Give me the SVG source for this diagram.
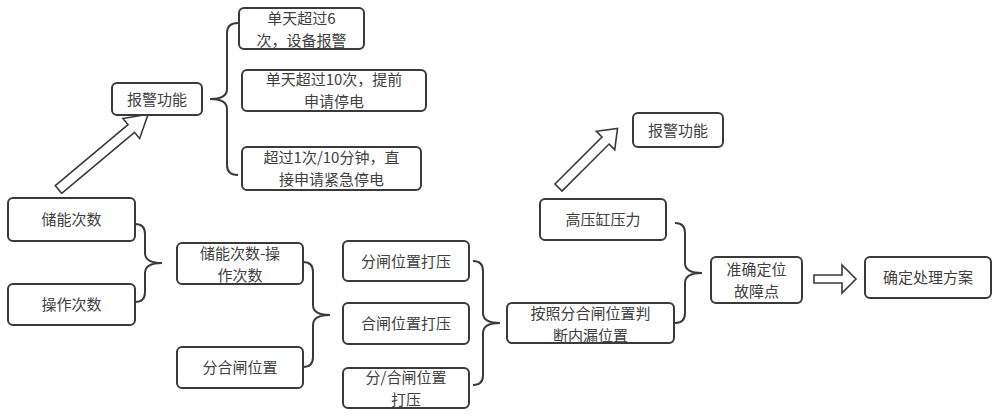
<svg xmlns="http://www.w3.org/2000/svg" width="1000" height="418" viewBox="0 0 1000 418">
<style>
.box{fill:#fff;stroke:#3a3a3a;stroke-width:2}
.t{font-family:"Noto Sans CJK SC","Liberation Sans",sans-serif;font-size:15px;fill:#404040;text-anchor:middle}
.br{fill:none;stroke:#3a3a3a;stroke-width:2}
.ar{fill:#fff;stroke:#3a3a3a;stroke-width:1.6;stroke-linejoin:miter}
</style>
<rect width="1000" height="418" fill="#fff"/>
<g id="connectors">
<polygon class="ar" transform="translate(58.5,189.5) rotate(-40)" points="0,-5 95,-5 95,-13 117,0 95,13 95,5 0,5"/>
<polygon class="ar" transform="translate(558.5,187.5) rotate(-45)" points="0,-5 66.5,-5 66.5,-13 83.5,0 66.5,13 66.5,5 0,5"/>
<polygon class="ar" transform="translate(814,279)" points="0,-4 28,-4 28,-14 42,0 28,14 28,4 0,4"/>
<path class="br" d="M238,23 Q227,23 227,33 L227,89 Q227,99 210,99 Q227,99 227,109 L227,165 Q227,175 238,175"/>
<path class="br" d="M135,224 Q145,224 145,234 L145,253 Q145,263 162,263 Q145,263 145,273 L145,292 Q145,302 135,302"/>
<path class="br" d="M303,262 Q313,262 313,272 L313,305 Q313,315 330,315 Q313,315 313,325 L313,357 Q313,367 303,367"/>
<path class="br" d="M473,261 Q483,261 483,271 L483,313 Q483,323 500,323 Q483,323 483,333 L483,375 Q483,385 473,385"/>
<path class="br" d="M675,223 Q685,223 685,233 L685,263 Q685,273 702,273 Q685,273 685,283 L685,313 Q685,323 675,323"/>
</g>
<g id="n1"><rect class="box" x="8" y="198" width="127" height="43" rx="5"/><text class="t" x="71.5" y="225">储能次数</text></g>
<g id="n2"><rect class="box" x="8" y="284" width="127" height="41" rx="5"/><text class="t" x="71.5" y="310">操作次数</text></g>
<g id="n3"><rect class="box" x="112" y="83" width="90" height="32" rx="5"/><text class="t" x="157" y="104.5">报警功能</text></g>
<g id="n4"><rect class="box" x="239" y="8" width="125" height="41" rx="5"/><text class="t" x="301.5" y="23.8">单天超过6<tspan x="301.5" dy="22">次，设备报警</tspan></text></g>
<g id="n5"><rect class="box" x="242" y="70" width="184" height="41" rx="5"/><text class="t" x="334" y="85.3">单天超过10次，提前<tspan x="334" dy="22">申请停电</tspan></text></g>
<g id="n6"><rect class="box" x="242" y="147" width="179" height="43" rx="5"/><text class="t" x="331.5" y="163">超过1次/10分钟，直<tspan x="331.5" dy="22">接申请紧急停电</tspan></text></g>
<g id="n7"><rect class="box" x="177" y="243" width="126" height="41" rx="5"/><text class="t" x="240" y="258.5">储能次数-操<tspan x="240" dy="22">作次数</tspan></text></g>
<g id="n8"><rect class="box" x="177" y="347" width="126" height="41" rx="5"/><text class="t" x="240" y="373">分合闸位置</text></g>
<g id="n9"><rect class="box" x="343" y="241" width="126" height="40" rx="5"/><text class="t" x="406" y="266.5">分闸位置打压</text></g>
<g id="n10"><rect class="box" x="343" y="303" width="126" height="41" rx="5"/><text class="t" x="406" y="329">合闸位置打压</text></g>
<g id="n11"><rect class="box" x="343" y="368" width="126" height="40" rx="5"/><text class="t" x="406" y="383.3">分/合闸位置<tspan x="406" dy="22">打压</tspan></text></g>
<g id="n12"><rect class="box" x="507" y="303" width="167" height="40" rx="5"/><text class="t" x="590.5" y="318.5">按照分合闸位置判<tspan x="590.5" dy="22">断内漏位置</tspan></text></g>
<g id="n13"><rect class="box" x="540" y="199" width="126" height="41" rx="5"/><text class="t" x="603" y="225">高压缸压力</text></g>
<g id="n14"><rect class="box" x="633" y="113" width="90" height="34" rx="5"/><text class="t" x="678" y="135.5">报警功能</text></g>
<g id="n15"><rect class="box" x="711" y="257" width="91" height="46" rx="5"/><text class="t" x="756.5" y="274.5">准确定位<tspan x="756.5" dy="22">故障点</tspan></text></g>
<g id="n16"><rect class="box" x="865" y="257" width="126" height="41" rx="5"/><text class="t" x="928" y="283">确定处理方案</text></g>
</svg>
